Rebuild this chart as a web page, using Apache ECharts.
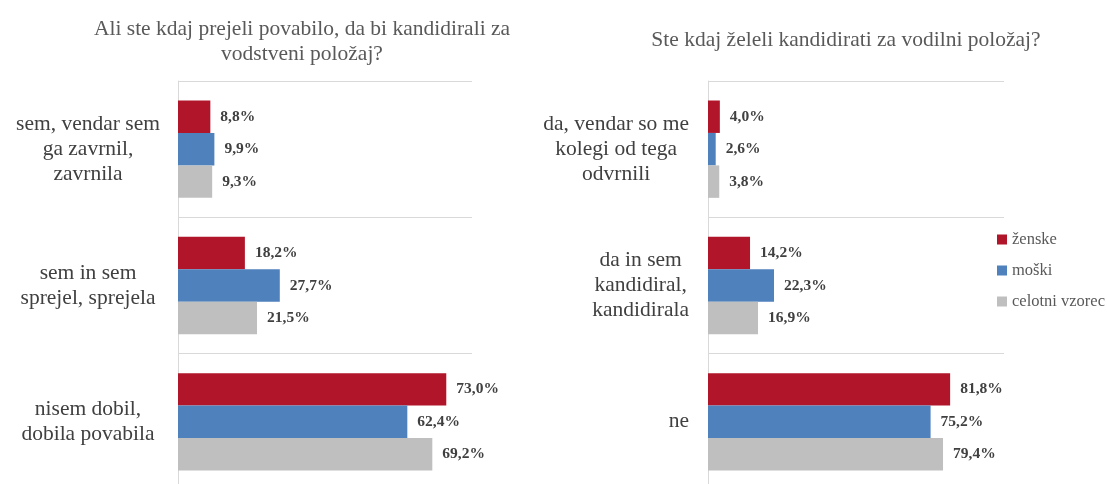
<!DOCTYPE html>
<html><head><meta charset="utf-8">
<script src="https://cdn.jsdelivr.net/npm/echarts@6/dist/echarts.min.js"></script>
<style>html,body{margin:0;padding:0;background:#fff}#c{width:1107px;height:484px}</style>
</head><body><div id="c"></div>
<script>
const titleLeft = "Ali ste kdaj prejeli povabilo, da bi kandidirali za\nvodstveni položaj?";
const titleRight = "Ste kdaj želeli kandidirati za vodilni položaj?";
const seriesNames = ["ženske", "moški", "celotni vzorec"];
const catsLeft = ["sem, vendar sem\nga zavrnil,\nzavrnila", "sem in sem\nsprejel, sprejela", "nisem dobil,\ndobila povabila"];
const catsRight = ["da, vendar so me\nkolegi od tega\nodvrnili", "da in sem\nkandidiral,\nkandidirala", "ne"];
const leftZenske = [8.8, 18.2, 73.0];
const leftMoski = [9.9, 27.7, 62.4];
const leftCelotni = [9.3, 21.5, 69.2];
const rightZenske = [4.0, 14.2, 81.8];
const rightMoski = [2.6, 22.3, 75.2];
const rightCelotni = [3.8, 16.9, 79.4];

const colors = ["#B0152A", "#4F81BD", "#BFBFBF"];
const FONT = "Liberation Serif";
const chart = echarts.init(document.getElementById('c'), null, {renderer: 'canvas'});

function mkSeries(name, data, idx, color) {
  return {
    name: name, type: 'bar', data: data, xAxisIndex: idx, yAxisIndex: idx,
    barGap: '0%', barCategoryGap: '28.6%',
    itemStyle: {color: color},
    label: {show: true, position: 'right', distance: 10,
      fontFamily: FONT, fontWeight: 'bold', fontSize: 15.5, color: '#404040',
      formatter: p => p.value.toFixed(1).replace('.', ',') + '%'},
    animation: false
  };
}
function yAx(idx, cats, margin, align) {
  return {
    type: 'category', gridIndex: idx, data: cats, inverse: true,
    axisLine: {show: true, lineStyle: {color: '#D9D9D9', width: 1}},
    axisTick: {show: false},
    splitLine: {show: true, lineStyle: {color: '#D9D9D9', width: 1}},
    axisLabel: {fontFamily: FONT, fontSize: 21.5, color: '#404040', align: align,
      margin: margin, lineHeight: 25,
      formatter: v => v.split('\n').map(s => '{c|' + s + '}').join('\n'),
      rich: {c: {align: 'center', fontFamily: FONT, fontSize: 21.5, color: '#404040', lineHeight: 25}}}
  };
}
chart.setOption({
  animation: false,
  title: [
    {text: titleLeft, left: 297, top: 12, textAlign: 'center',
      textStyle: {fontFamily: FONT, fontSize: 21.5, fontWeight: 'normal', color: '#595959', lineHeight: 25}},
    {text: titleRight, left: 841, top: 24, textAlign: 'center',
      textStyle: {fontFamily: FONT, fontSize: 21.5, fontWeight: 'normal', color: '#595959'}}
  ],
  legend: {
    data: seriesNames, orient: 'vertical', left: 997, top: 231, padding: 0,
    itemWidth: 10, itemHeight: 10, itemGap: 14, icon: 'rect',
    textStyle: {fontFamily: FONT, fontSize: 16.5, color: '#595959'}
  },
  grid: [
    {left: 178, top: 81, width: 294, height: 409, outerBoundsMode: 'none', containLabel: false},
    {left: 708, top: 81, width: 296, height: 409, outerBoundsMode: 'none', containLabel: false}
  ],
  xAxis: [
    {type: 'value', gridIndex: 0, min: 0, max: 80, show: false},
    {type: 'value', gridIndex: 1, min: 0, max: 100, show: false}
  ],
  yAxis: [yAx(0, catsLeft, 90, 'center'), yAx(1, catsRight, 19, 'right')],
  series: [
    mkSeries(seriesNames[0], leftZenske, 0, colors[0]),
    mkSeries(seriesNames[1], leftMoski, 0, colors[1]),
    mkSeries(seriesNames[2], leftCelotni, 0, colors[2]),
    mkSeries(seriesNames[0], rightZenske, 1, colors[0]),
    mkSeries(seriesNames[1], rightMoski, 1, colors[1]),
    mkSeries(seriesNames[2], rightCelotni, 1, colors[2])
  ]
});
</script></body></html>
